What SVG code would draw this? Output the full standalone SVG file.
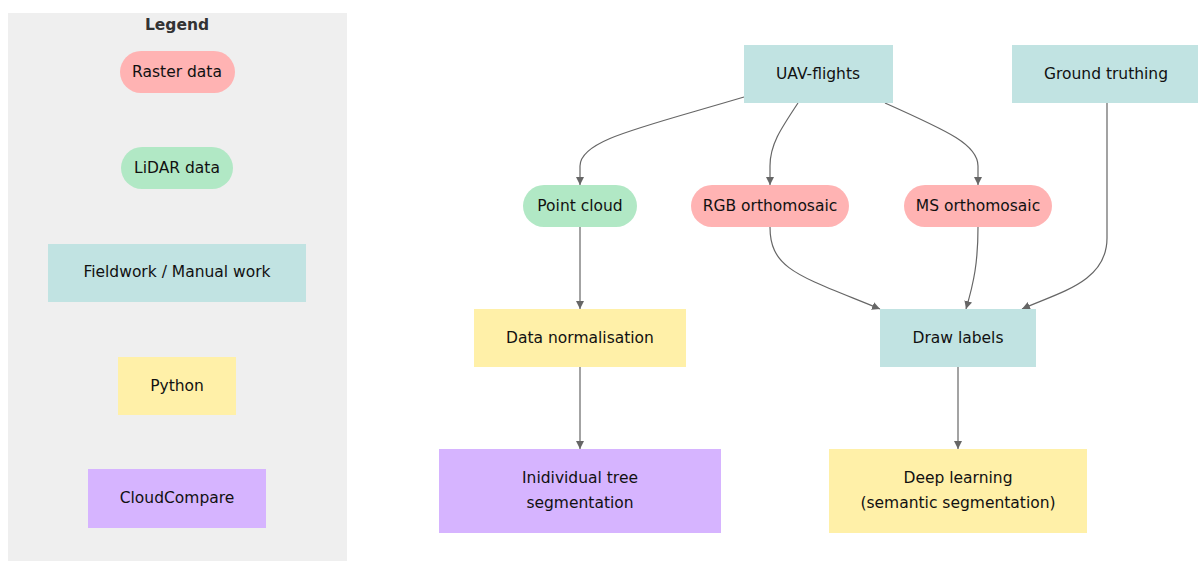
<svg xmlns="http://www.w3.org/2000/svg" width="1198" height="561" viewBox="0 0 1198 561">
<style>
text{font-family:"DejaVu Sans","Liberation Sans",Arial,sans-serif;font-size:15.5px;fill:#111;text-anchor:middle;dominant-baseline:central}
.title{font-weight:bold;fill:#333}
.raster{fill:#ffb3b3}
.lidar{fill:#b1e8c5}
.field{fill:#c1e3e2}
.py{fill:#fff0a8}
.cc{fill:#d6b4ff}
.edge{fill:none;stroke:#666;stroke-width:1.2;marker-end:url(#arr)}
</style>
<defs>
<marker id="arr" viewBox="0 0 10 10" refX="10" refY="5" markerWidth="8" markerHeight="8" markerUnits="userSpaceOnUse" orient="auto">
<path d="M0,0 L10,5 L0,10 z" fill="#666"/>
</marker>
</defs>
<rect x="0" y="0" width="1198" height="561" fill="#fff"/>
<g id="legend">
<rect x="8" y="13" width="339" height="548" fill="#efefef"/>
<text class="title" x="177" y="25">Legend</text>
</g>
<g id="leg-raster"><rect class="raster" x="120" y="51" width="115" height="42" rx="21"/><text x="177" y="72">Raster data</text></g>
<g id="leg-lidar"><rect class="lidar" x="121" y="147" width="112" height="42" rx="21"/><text x="177" y="168">LiDAR data</text></g>
<g id="leg-field"><rect class="field" x="48" y="244" width="258" height="58"/><text x="177" y="272">Fieldwork / Manual work</text></g>
<g id="leg-python"><rect class="py" x="118" y="357" width="118" height="58"/><text x="177" y="386">Python</text></g>
<g id="leg-cc"><rect class="cc" x="88" y="469" width="178" height="59"/><text x="177" y="498">CloudCompare</text></g>

<g id="connectors">
<path class="edge" d="M744,97 C640,128 580,140 580,166 L580,185"/>
<path class="edge" d="M798,103 C780,130 770,145 770,166 L770,185"/>
<path class="edge" d="M885,103 C950,132 978,145 978,166 L978,185"/>
<path class="edge" d="M580,227 L580,309"/>
<path class="edge" d="M770,227 C770,270 800,276 880,309"/>
<path class="edge" d="M978,227 C978,262 974,282 966,309"/>
<path class="edge" d="M1107,103 L1107,238 C1107,282 1060,292 1022,309"/>
<path class="edge" d="M580,367 L580,449"/>
<path class="edge" d="M958,367 L958,449"/>
</g>

<g id="uav"><rect class="field" x="744" y="45" width="149" height="58"/><text x="818" y="74">UAV-flights</text></g>
<g id="ground"><rect class="field" x="1012" y="45" width="190" height="58"/><text x="1106" y="74">Ground truthing</text></g>
<g id="pointcloud"><rect class="lidar" x="523" y="185" width="114" height="42" rx="21"/><text x="580" y="206">Point cloud</text></g>
<g id="rgb"><rect class="raster" x="691" y="185" width="158" height="42" rx="21"/><text x="770" y="206">RGB orthomosaic</text></g>
<g id="ms"><rect class="raster" x="904" y="185" width="148" height="42" rx="21"/><text x="978" y="206">MS orthomosaic</text></g>
<g id="norm"><rect class="py" x="474" y="309" width="212" height="58"/><text x="580" y="338">Data normalisation</text></g>
<g id="labels"><rect class="field" x="880" y="309" width="156" height="58"/><text x="958" y="338">Draw labels</text></g>
<g id="tree"><rect class="cc" x="439" y="449" width="282" height="84"/><text x="580" y="478">Inidividual tree</text><text x="580" y="503">segmentation</text></g>
<g id="deep"><rect class="py" x="829" y="449" width="258" height="84"/><text x="958" y="478">Deep learning</text><text x="958" y="503">(semantic segmentation)</text></g>
</svg>
